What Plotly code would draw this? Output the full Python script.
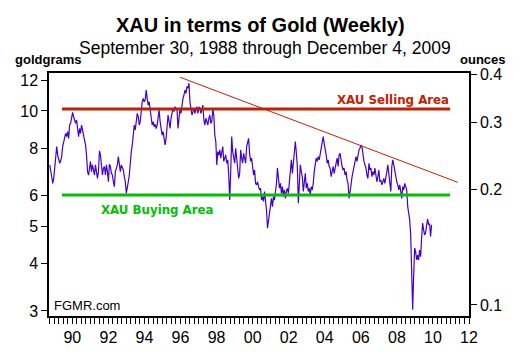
import math
import pandas as pd
import plotly.graph_objects as go

# ---------------- data ----------------
start_date = "1988-09-30"
end_date = "2009-12-04"

xau_goldgrams = [
    7.23, 6.87, 6.73, 6.47, 6.66, 7.09, 7.67, 8.07, 7.67, 7.45,
    7.30, 7.41, 7.60, 8.07, 8.32, 8.57, 8.74, 8.57, 8.83, 8.48,
    9.19, 9.28, 9.66, 9.92, 9.66, 9.38, 9.28, 9.47, 8.83, 8.57,
    9.00, 8.74, 9.19, 8.92, 8.65, 8.32, 8.15, 7.67, 6.94, 6.80,
    7.09, 7.38, 6.94, 7.23, 7.01, 6.80, 7.23, 6.80, 6.66, 6.94,
    7.86, 7.67, 7.01, 6.80, 7.09, 7.16, 6.80, 7.23, 6.94, 6.53,
    7.26, 7.16, 6.87, 6.80, 6.53, 6.34, 6.94, 7.09, 7.23, 7.60,
    7.16, 6.94, 7.23, 7.09, 7.01, 6.73, 6.53, 6.09, 6.41, 6.53,
    6.80, 7.38, 7.83, 8.15, 8.57, 9.19, 8.92, 9.57, 9.86, 9.66,
    9.19, 9.38, 10.26, 10.57, 10.79, 10.57, 10.68, 11.34, 10.79, 10.36,
    10.57, 10.16, 9.57, 9.19, 9.38, 9.10, 9.23, 9.00, 9.19, 9.66,
    10.06, 9.38, 8.92, 8.65, 8.83, 8.48, 8.15, 8.48, 9.00, 9.76,
    9.38, 9.00, 9.57, 9.86, 10.16, 9.96, 10.26, 10.16, 10.06, 9.00,
    9.57, 10.16, 9.86, 10.47, 10.79, 11.01, 11.34, 11.12, 11.58, 11.47,
    11.82, 10.57, 10.16, 9.76, 9.96, 10.16, 9.86, 10.06, 10.26, 9.86,
    10.26, 10.16, 9.86, 10.06, 10.36, 9.47, 9.19, 9.57, 9.38, 9.19,
    9.57, 9.76, 9.28, 9.38, 10.16, 9.76, 8.65, 8.32, 7.23, 7.83,
    7.67, 7.91, 7.53, 7.83, 8.07, 7.38, 7.53, 7.67, 7.30, 7.45,
    6.80, 5.85, 6.94, 8.57, 7.83, 7.53, 7.30, 7.99, 7.38, 6.80,
    6.66,
    6.87, 7.91, 7.53, 7.30, 7.75, 7.53, 7.30, 8.07, 8.23, 8.48,
    7.75, 7.38, 7.53, 7.16, 6.80, 7.01, 6.47, 6.41, 6.53, 6.34,
    6.22, 6.28, 5.85, 5.97, 5.80, 6.16, 5.85, 5.51, 4.94, 5.19,
    5.40, 5.74, 5.91, 5.62, 5.97, 5.85, 6.16, 6.47, 7.09, 6.60,
    6.28, 6.47, 6.09, 6.34, 5.97, 6.22, 5.91, 6.16, 6.28, 6.09,
    6.60, 7.16, 7.45, 6.87, 7.45, 7.91, 8.32, 7.75, 7.16, 5.74,
    6.47, 7.23, 6.94, 6.73, 6.16, 6.66, 6.87, 6.28, 6.47, 6.16,
    6.28, 6.03, 6.34, 6.22, 6.47, 6.94, 7.16, 7.53, 7.38, 7.60,
    7.45, 7.75, 7.91, 8.32, 8.57, 8.23, 7.99, 7.67, 7.30, 7.45,
    7.16,
    7.09, 6.73, 6.94, 7.16, 6.87, 7.09, 7.38, 7.53, 7.16, 7.67,
    7.75, 7.38, 7.16, 7.01, 7.09, 6.80, 6.94, 6.60, 6.47, 5.91,
    6.28, 6.41, 6.73, 6.94, 7.16, 7.30, 7.60, 7.38, 7.67, 7.91,
    7.99, 8.15, 8.07, 7.67, 7.38, 7.23, 7.09, 6.80, 6.66, 7.30,
    7.01, 7.09, 6.73, 6.94, 6.80, 7.09, 6.73, 6.53, 6.73, 7.01,
    6.53, 6.60, 6.41, 6.60, 6.66, 6.47, 6.80, 6.94, 7.23, 6.87,
    6.60, 6.16, 7.16, 7.45, 7.23, 6.94, 6.73, 6.53, 6.41, 6.22,
    6.41, 6.16, 5.91, 6.34, 6.22, 6.47, 6.28, 6.22,
    5.62, 5.45, 5.19, 4.74, 3.62, 3.02, 3.73, 4.38, 4.28, 4.08,
    4.20, 4.08, 4.33, 4.16, 4.66, 5.09, 4.89, 4.74, 4.80, 5.09,
    5.22, 5.04, 5.07, 4.70, 5.04,
]

selling_level = 10.12
buying_level = 6.03
zone_dates = ["1989-06-05", "2010-12-15"]
trend_dates = ["1995-12-25", "2011-05-15"]
trend_values = [12.25, 6.51]

left_ticks = [3, 4, 5, 6, 8, 10, 12]
left_tick_labels = ["3", "4", "5", "6", "8", "10", "12"]
right_ticks = [0.1, 0.2, 0.3, 0.4]
right_tick_labels = ["0.1", "0.2", "0.3", "0.4"]
GRAMS_PER_OUNCE = 31.1035
y_min, y_max = 2.91, 12.57

dates = pd.date_range(start_date, end_date, periods=len(xau_goldgrams))

# ---------------- style ----------------
FONT = "Arial, Liberation Sans, sans-serif"
RED = "#c42000"
GREEN = "#00c000"
PURPLE = "#4400cc"

# the page body adds an 8px offset; the figure is sized so the plot lands where the reference has it
fig = go.Figure()
fig.add_trace(go.Scatter(x=dates, y=xau_goldgrams, mode="lines",
                         line=dict(color=PURPLE, width=1.2), showlegend=False))
fig.add_trace(go.Scatter(x=zone_dates, y=[selling_level, selling_level], mode="lines",
                         line=dict(color=RED, width=3), showlegend=False))
fig.add_trace(go.Scatter(x=zone_dates, y=[buying_level, buying_level], mode="lines",
                         line=dict(color=GREEN, width=3), showlegend=False))
fig.add_trace(go.Scatter(x=trend_dates, y=trend_values, mode="lines",
                         line=dict(color=RED, width=1), showlegend=False))
fig.add_trace(go.Scatter(x=[dates[0]], y=[xau_goldgrams[0] / GRAMS_PER_OUNCE], yaxis="y2",
                         mode="markers", marker=dict(opacity=0), showlegend=False,
                         hoverinfo="skip"))

tickfont = dict(family=FONT, size=16, color="black")

fig.update_layout(
    width=517, height=353, autosize=False,
    margin=dict(l=41, r=56, t=65, b=45, pad=0),
    paper_bgcolor="white", plot_bgcolor="white",
    showlegend=False,
    xaxis=dict(
        type="date", range=["1988-09-15", "2012-01-01"], automargin=False,
        dtick="M24", tick0="1990-01-01", tickformat="%y",
        ticks="outside", ticklen=6, tickwidth=1, tickcolor="black",
        showline=True, linecolor="black", linewidth=1.5, mirror=True,
        showgrid=False, zeroline=False, tickfont=tickfont,
        minor=dict(dtick="M3", tick0="1990-01-01", ticks="outside", ticklen=6,
                   tickwidth=1, tickcolor="black", showgrid=False),
    ),
    yaxis=dict(
        type="log", range=[math.log10(y_min), math.log10(y_max)], automargin=False,
        tickmode="array", tickvals=left_ticks, ticktext=left_tick_labels,
        ticks="outside", ticklen=6, tickwidth=1, tickcolor="black",
        showline=True, linecolor="black", linewidth=1.5, mirror=True,
        showgrid=False, zeroline=False, tickfont=tickfont,
    ),
    yaxis2=dict(
        type="log", overlaying="y", side="right", anchor="x", automargin=False,
        range=[math.log10(y_min / GRAMS_PER_OUNCE), math.log10(y_max / GRAMS_PER_OUNCE)],
        tickmode="array", tickvals=right_ticks, ticktext=right_tick_labels,
        ticks="outside", ticklen=6, tickwidth=1, tickcolor="black",
        showline=True, linecolor="black", linewidth=1.5,
        showgrid=False, zeroline=False, tickfont=tickfont,
    ),
)

fig.add_annotation(text="<b>XAU in terms of Gold (Weekly)</b>", xref="paper", yref="paper",
                   x=(260 - 49) / 420, y=(316 - 25) / 243, xanchor="center", yanchor="middle",
                   showarrow=False, font=dict(family=FONT, size=20, color="black"))
fig.add_annotation(text="September 30, 1988 through December 4, 2009", xref="paper", yref="paper",
                   x=(264.5 - 49) / 420, y=(316 - 48) / 243, xanchor="center", yanchor="middle",
                   showarrow=False, font=dict(family=FONT, size=17.5, color="black"))
fig.add_annotation(text="<b>goldgrams</b>", xref="paper", yref="paper",
                   x=(13 - 49) / 420, y=(316 - 60) / 243, xanchor="left", yanchor="middle",
                   showarrow=False, font=dict(family=FONT, size=13, color="black"))
fig.add_annotation(text="<b>ounces</b>", xref="paper", yref="paper",
                   x=(508 - 49) / 420, y=(316 - 60) / 243, xanchor="right", yanchor="middle",
                   showarrow=False, font=dict(family=FONT, size=13, color="black"))
fig.add_annotation(text="<b>XAU Selling Area</b>", xref="paper", yref="paper",
                   x=(451 - 49) / 420, y=(316 - 99.5) / 243, xanchor="right", yanchor="middle",
                   showarrow=False, font=dict(family="DejaVu Sans", size=11.8, color=RED))
fig.add_annotation(text="<b>XAU Buying Area</b>", xref="paper", yref="paper",
                   x=(99 - 49) / 420, y=(316 - 209.7) / 243, xanchor="left", yanchor="middle",
                   showarrow=False, font=dict(family="DejaVu Sans", size=11.8, color=GREEN))
fig.add_annotation(text="FGMR.com", xref="paper", yref="paper",
                   x=(52 - 49) / 420, y=(316 - 305.7) / 243, xanchor="left", yanchor="middle",
                   showarrow=False, font=dict(family=FONT, size=13, color="black"))

fig.write_html("out.html")
